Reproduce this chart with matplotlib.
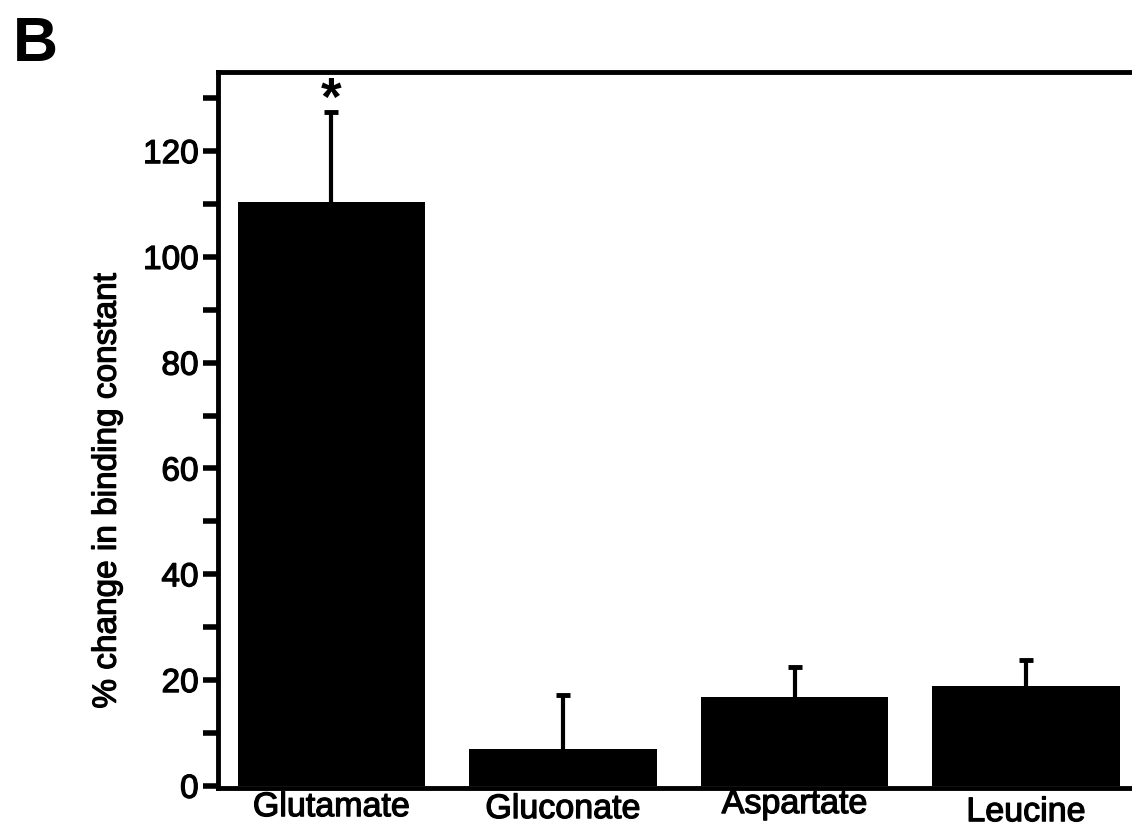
import numpy as np
import matplotlib.pyplot as plt
import matplotlib.patheffects as pe
from matplotlib.transforms import ScaledTranslation

plt.rcParams["font.family"] = ["Liberation Sans", "DejaVu Sans"]

conditions = ["Glutamate", "Gluconate", "Aspartate", "Leucine"]
pct_change = [110.3, 7.0, 16.8, 18.8]
sem = [17.1, 10.1, 5.6, 4.9]
label_shift_pt = [0, -1.4, 2.2, -3.6]  # vertical nudges of the category labels

# slightly heavier strokes on the lettering
heavy = [pe.withStroke(linewidth=0.9, foreground="black")]

fig = plt.figure(figsize=(11.32, 8.27), dpi=100)
ax = fig.add_axes([0.1926, 0.0472, 0.81, 0.866])

x = np.arange(len(conditions))
ax.bar(x, pct_change, width=0.81, color="black", zorder=2)
_, caps, _ = ax.errorbar(x, pct_change, yerr=[np.zeros(len(sem)), sem], fmt="none",
                         ecolor="black", elinewidth=3, capsize=5, capthick=3.5, zorder=1)
caps[0].set_visible(False)  # only the upper cap is drawn

# significance marker
ax.text(x[0], pct_change[0] + sem[0] - 0.6, "*", ha="center", va="baseline",
        fontsize=38, fontweight="bold")

ax.set_xlim(-0.49, 3.47)
ax.set_ylim(-0.4, 135)
ax.set_yticks([0, 20, 40, 60, 80, 100, 120])
ax.set_yticks(np.arange(10, 140, 20), minor=True)
ax.set_xticks(x)
ax.set_xticklabels(conditions, fontsize=24.5)
ax.tick_params(axis="x", length=0, pad=3)
ax.tick_params(axis="y", which="both", direction="out", length=11, width=4,
               labelsize=24, pad=3)

for lbl, dy in zip(ax.get_xticklabels(), label_shift_pt):
    lbl.set_transform(lbl.get_transform() + ScaledTranslation(0, dy / 72, fig.dpi_scale_trans))
    lbl.set_path_effects(heavy)
for lbl in ax.get_yticklabels():
    lbl.set_path_effects(heavy)

ax.set_ylabel("% change in binding constant", fontsize=24, path_effects=heavy)
ax.yaxis.set_label_coords(-0.104, 0.415)

for side in ["left", "top", "bottom"]:
    ax.spines[side].set_linewidth(3.5)
ax.spines["right"].set_visible(False)

fig.text(0.011, 0.982, "B", fontsize=45, fontweight="bold", ha="left", va="top")

fig.savefig("out.png", dpi=100)
